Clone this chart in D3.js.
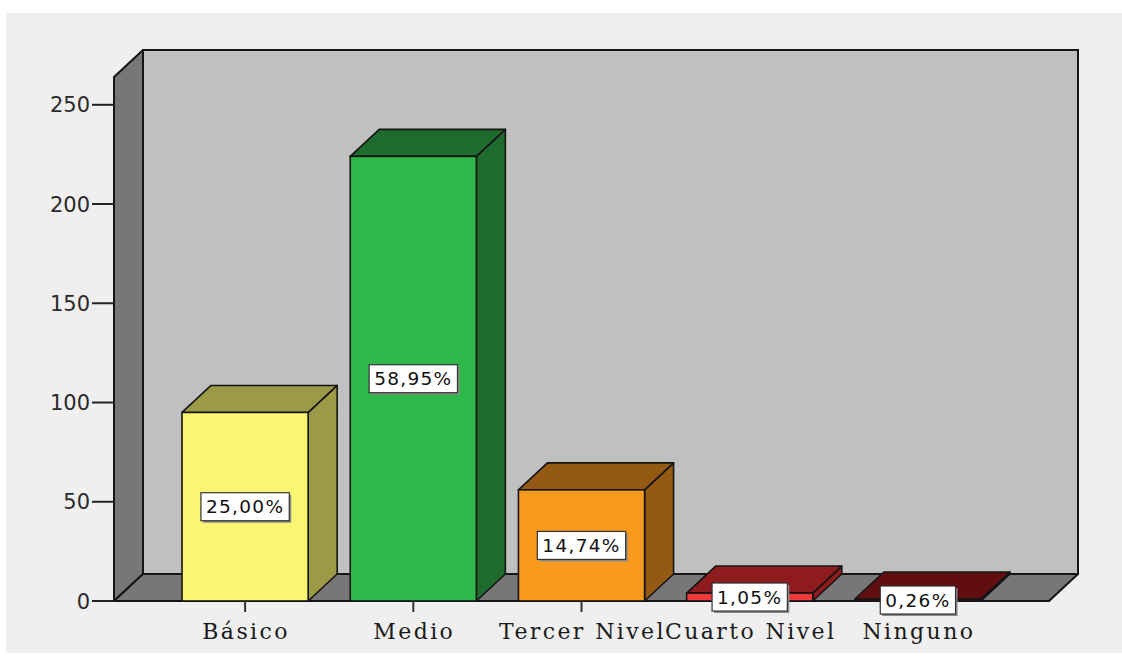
<!DOCTYPE html>
<html>
<head>
<meta charset="utf-8">
<script src="https://cdn.jsdelivr.net/npm/d3@7"></script>
<style>
html,body{margin:0;padding:0;background:#ffffff;}
svg{display:block;}
</style>
</head>
<body>
<svg id="chart" width="1122" height="657"></svg>
<script>
const categories = ["Básico", "Medio", "Tercer Nivel", "Cuarto Nivel", "Ninguno"];
const counts = [95, 224, 56, 4, 1];
const percentLabels = ["25,00%", "58,95%", "14,74%", "1,05%", "0,26%"];
const frontColors = ["#fbf574", "#2eb74a", "#f89a1e", "#f03a3a", "#6e0f12"];
const shadeColors = ["#9c9a47", "#1e6b2d", "#945a14", "#8e1c1f", "#600e10"];
const yTicks = [0, 50, 100, 150, 200, 250];

const svg = d3.select("#chart");
const W = 1122, H = 657;

// outer background
svg.append("rect").attr("x", 6).attr("y", 13).attr("width", W - 6).attr("height", 640).attr("fill", "#efefef");

const dx = 29, dy = -27;
const x0 = 114, x1 = 1049;
const y = d3.scaleLinear().domain([0, 264]).range([601, 77]);
const x = d3.scaleBand().domain(categories).range([161, 1002]).paddingInner(0.25).paddingOuter(0.125);

const stroke = "#151515";
const sw = 1.6;
const g = svg.append("g");

// back wall
g.append("rect").attr("x", x0 + dx).attr("y", y(264) + dy).attr("width", x1 - x0).attr("height", y(0) - y(264))
  .attr("fill", "#c0c0c0").attr("stroke", stroke).attr("stroke-width", 2);
// left wall
g.append("polygon").attr("points", [[x0, y(0)], [x0, y(264)], [x0 + dx, y(264) + dy], [x0 + dx, y(0) + dy]].join(" "))
  .attr("fill", "#777777").attr("stroke", stroke).attr("stroke-width", 2).attr("stroke-linejoin", "round");
// floor
g.append("polygon").attr("points", [[x0, y(0)], [x0 + dx, y(0) + dy], [x1 + dx, y(0) + dy], [x1, y(0)]].join(" "))
  .attr("fill", "#777777").attr("stroke", stroke).attr("stroke-width", 2).attr("stroke-linejoin", "round");

// y axis ticks
yTicks.forEach(t => {
  g.append("line").attr("x1", 92).attr("x2", x0).attr("y1", y(t)).attr("y2", y(t)).attr("stroke", "#222").attr("stroke-width", 2);
  g.append("text").attr("x", 90).attr("y", y(t)).attr("dy", "0.36em").attr("text-anchor", "end")
    .attr("font-family", "DejaVu Sans").attr("font-size", 21).attr("fill", "#2a2a2a").text(t);
});

// bars
categories.forEach((c, i) => {
  const bx0 = x(c), bx1 = x(c) + x.bandwidth();
  const yt = y(counts[i]), yb = y(0);
  g.append("polygon").attr("points", [[bx1, yt], [bx1 + dx, yt + dy], [bx1 + dx, yb + dy], [bx1, yb]].join(" "))
    .attr("fill", shadeColors[i]).attr("stroke", stroke).attr("stroke-width", sw).attr("stroke-linejoin", "round");
  g.append("polygon").attr("points", [[bx0, yt], [bx0 + dx, yt + dy], [bx1 + dx, yt + dy], [bx1, yt]].join(" "))
    .attr("fill", shadeColors[i]).attr("stroke", stroke).attr("stroke-width", sw).attr("stroke-linejoin", "round");
  g.append("rect").attr("x", bx0).attr("y", yt).attr("width", bx1 - bx0).attr("height", yb - yt)
    .attr("fill", frontColors[i]).attr("stroke", stroke).attr("stroke-width", sw);
});

// x ticks and labels
categories.forEach((c, i) => {
  const cx = x(c) + x.bandwidth() / 2;
  g.append("line").attr("x1", cx).attr("x2", cx).attr("y1", y(0)).attr("y2", y(0) + 11).attr("stroke", "#333").attr("stroke-width", 2);
  g.append("text").attr("x", cx + 1).attr("y", 639).attr("text-anchor", "middle")
    .attr("font-family", "DejaVu Serif").attr("font-size", 22).attr("letter-spacing", "2.4px")
    .attr("fill", "#1a1a1a").text(c);
});

// value labels
categories.forEach((c, i) => {
  const cx = x(c) + x.bandwidth() / 2;
  const cy = (y(counts[i]) + y(0)) / 2;
  const lg = g.append("g");
  const t = lg.append("text").attr("x", cx).attr("y", cy).attr("dy", "0.36em").attr("text-anchor", "middle")
    .attr("font-family", "DejaVu Sans").attr("font-size", 18.5).attr("letter-spacing", "1.3px")
    .attr("fill", "#111").text(percentLabels[i]);
  const bb = t.node().getBBox();
  const bw = bb.width + 10, bh = 28;
  lg.insert("rect", "text").attr("x", cx - bw / 2 + 2).attr("y", cy - bh / 2 + 2).attr("width", bw).attr("height", bh).attr("fill", "#8a8a8a");
  lg.insert("rect", "text").attr("x", cx - bw / 2).attr("y", cy - bh / 2).attr("width", bw).attr("height", bh)
    .attr("fill", "#ffffff").attr("stroke", "#333").attr("stroke-width", 1.2);
});
</script>
</body>
</html>
